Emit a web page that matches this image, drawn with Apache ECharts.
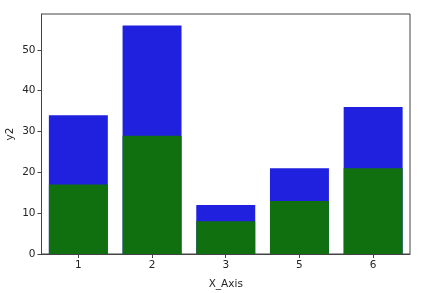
<!DOCTYPE html>
<html><head><meta charset="utf-8">
<script src="https://cdn.jsdelivr.net/npm/echarts@6/dist/echarts.min.js"></script>
<style>html,body{margin:0;padding:0;background:#fff}#c{width:445px;height:293px}</style>
</head><body><div id="c"></div>
<script>
const categories = ['1', '2', '3', '5', '6'];
const blueValues = [34, 56, 12, 21, 36];
const greenValues = [17, 29, 8, 13, 21];
const yTicks = [0, 10, 20, 30, 40, 50];

const txt = '#262626';
const font = 'DejaVu Sans';
const chart = echarts.init(document.getElementById('c'), null, {renderer: 'canvas'});
chart.setOption({
  animation: false,
  backgroundColor: '#fff',
  grid: {left: 41.5, top: 14, right: 35, bottom: 39, show: true, borderColor: '#444', borderWidth: 1, backgroundColor: 'transparent', containLabel: false, outerBoundsMode: 'none'},
  xAxis: {
    type: 'category', data: categories,
    name: 'X_Axis', nameLocation: 'middle', nameGap: 24.5, nameMoveOverlap: false,
    nameTextStyle: {color: txt, fontFamily: font, fontSize: 10.5},
    axisLine: {show: true, lineStyle: {color: '#444', width: 1}},
    axisTick: {show: true, alignWithLabel: true, length: 4, lineStyle: {color: '#444'}},
    axisLabel: {color: txt, fontFamily: font, fontSize: 10.5, margin: 6}
  },
  yAxis: {
    type: 'value', min: 0, max: 58.8, interval: 10,
    name: 'y2', nameLocation: 'middle', nameGap: 26, nameRotate: 90, nameMoveOverlap: false,
    nameTextStyle: {color: txt, fontFamily: font, fontSize: 10.5},
    splitLine: {show: false},
    axisLine: {show: true, lineStyle: {color: '#444', width: 1}},
    axisTick: {show: true, length: 4, lineStyle: {color: '#444'}, customValues: yTicks},
    axisLabel: {color: txt, fontFamily: font, fontSize: 10.5, margin: 6, customValues: yTicks}
  },
  series: [
    {type: 'bar', data: blueValues, barWidth: '80%', barGap: '-100%', itemStyle: {color: '#2020df'}},
    {type: 'bar', data: greenValues, barWidth: '80%', barGap: '-100%', itemStyle: {color: '#107010'}}
  ]
});
</script></body></html>
